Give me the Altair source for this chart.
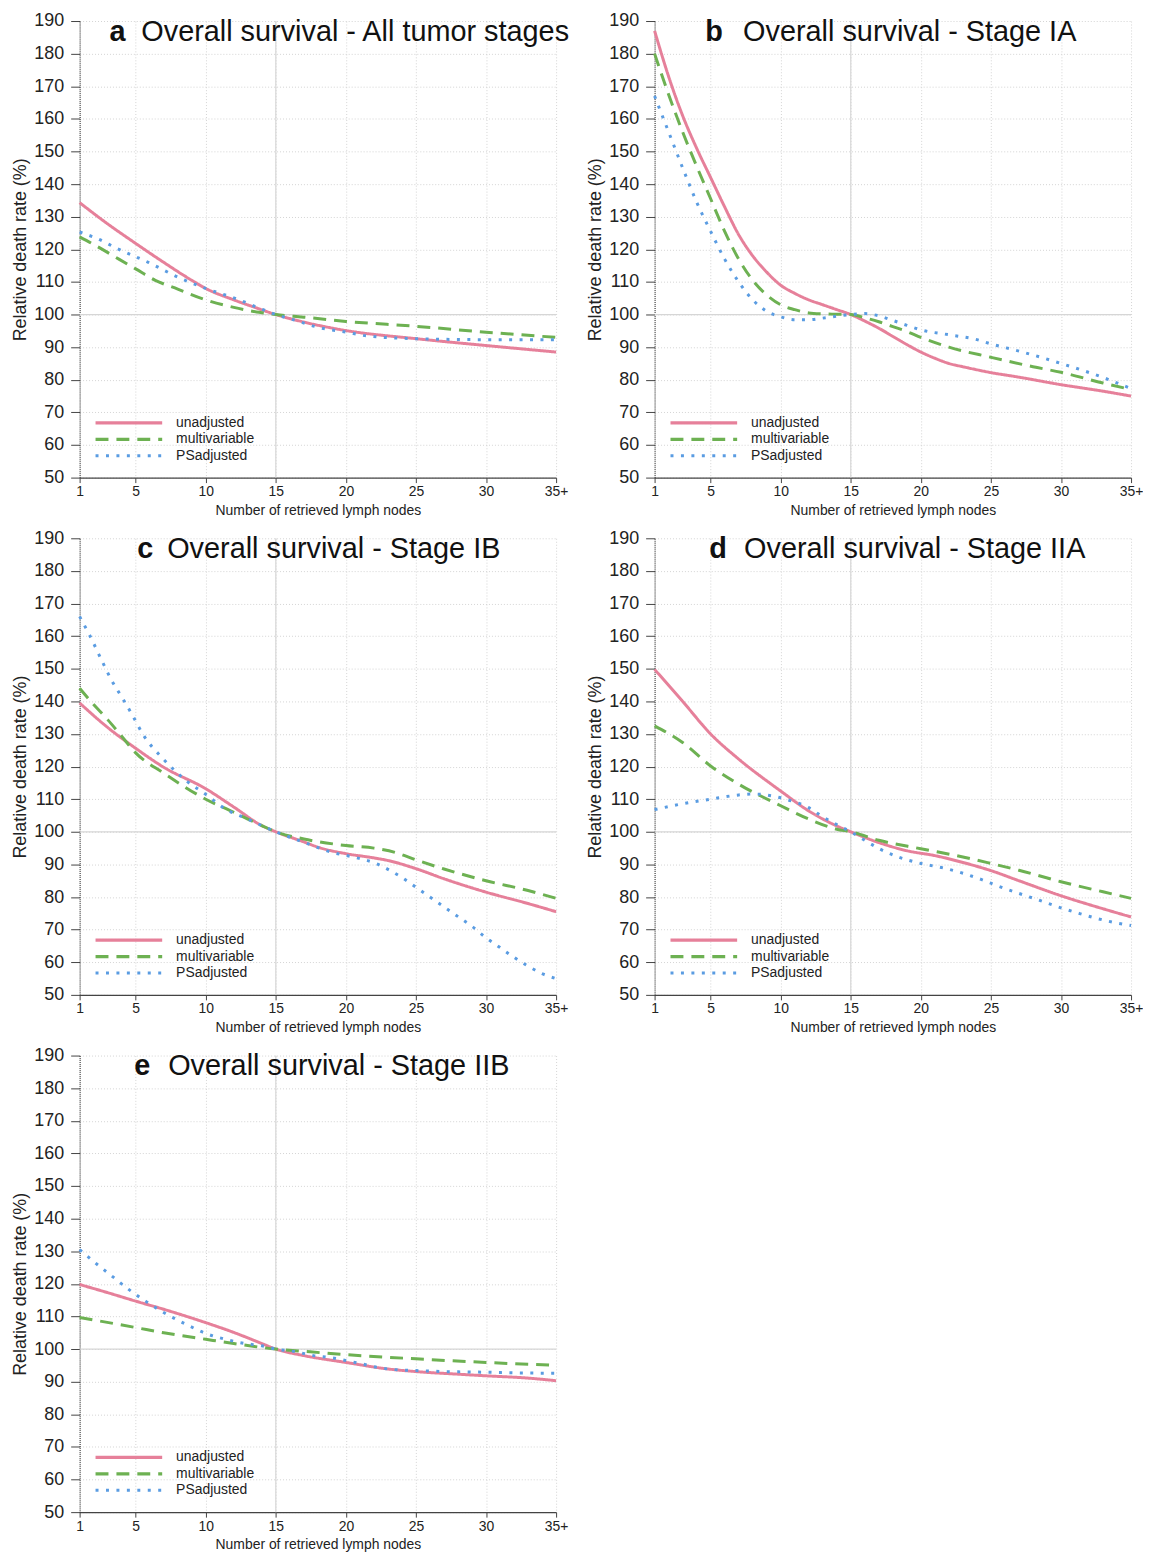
import altair as alt
import pandas as pd

FONT = "Liberation Sans"
MODELS = ["unadjusted", "multivariable", "PSadjusted"]
COLORS = ["#E6809A", "#6DB152", "#5A9CE2"]
DASHES = [[1, 0], [13, 8], [3, 7.5]]

X_TICKS = [1, 5, 10, 15, 20, 25, 30, 35]
Y_TICKS = list(range(50, 191, 10))
X_TITLE = "Number of retrieved lymph nodes"
Y_TITLE = "Relative death rate (%)"

# ---------- panel a ----------
A_LETTER = "a"
A_TITLE = "Overall survival - All tumor stages"
A_UN_X = [1, 3, 5, 7, 9, 10, 12, 13.5, 15, 17, 20, 25, 30, 35]
A_UN_Y = [134.3, 127.8, 121.8, 116, 110.5, 108, 104.5, 102.2, 100, 97.7, 95.1, 92.6, 90.5, 88.5]
A_MV_X = [1, 2, 3.8, 5, 6.4, 8, 10, 12, 13.8, 15, 17, 20, 25, 30, 35]
A_MV_Y = [123.8, 121.5, 117, 114, 110.5, 107.8, 104.5, 102.2, 100.7, 100, 99.2, 97.9, 96.4, 94.6, 93]
A_PS_X = [1, 2.25, 3.7, 5.9, 8, 10, 12.2, 13.8, 15, 16.4, 18, 20, 21.6, 25, 30, 35]
A_PS_Y = [125.3, 123.3, 120.2, 116, 111.5, 108, 104.8, 102, 100, 98.2, 96.1, 94.6, 93.4, 92.6, 92.3, 92.3]

# ---------- panel b ----------
B_LETTER = "b"
B_TITLE = "Overall survival - Stage IA"
B_UN_X = [1, 2, 3, 4, 5, 6, 7, 8, 9, 10, 11, 12, 13, 14, 15, 16, 17, 18, 19, 20, 21, 22, 23, 25, 27, 30, 33, 35]
B_UN_Y = [187, 173, 161, 151, 142, 133, 124.5, 118, 113, 109, 106.5, 104.5, 103, 101.5, 100, 98, 95.8, 93.3,
          90.8, 88.5, 86.6, 85, 84, 82.2, 80.8, 78.5, 76.5, 75]
B_MV_X = [1, 2, 3, 4, 5, 6, 7, 8, 9, 10, 11, 12, 13, 14, 15, 16, 17, 18, 19, 20, 22, 25, 28, 30, 33, 35]
B_MV_Y = [180, 167.5, 156, 145.5, 135.5, 125.5, 117, 110.5, 106, 103, 101.5, 100.5, 100.2, 100.1, 100, 99, 97.8,
          96.3, 94.8, 93, 90, 86.9, 84, 82.3, 79, 77]
B_PS_X = [1, 2, 3, 4, 5, 6, 7, 8, 9, 10, 11, 12, 13, 14, 15, 16, 17, 18, 19, 20, 22, 24, 25, 27, 30, 33, 35]
B_PS_Y = [167, 156, 145, 134.5, 125.5, 117, 110, 104.5, 101, 99.3, 98.4, 98.4, 98.9, 99.5, 100, 100.3, 99.6, 98.2,
          96.7, 95.3, 93.8, 92.3, 91, 88.8, 85, 80.7, 77.3]

# ---------- panel c ----------
C_LETTER = "c"
C_TITLE = "Overall survival - Stage IB"
C_UN_X = [1, 3, 5, 7, 10, 12, 14, 15, 17, 18, 20, 22, 23, 25, 27, 30, 33, 35]
C_UN_Y = [139.5, 132, 125.6, 119.8, 113.2, 107.6, 101.9, 100, 96.9, 95.3, 93.3, 92, 91.2, 88.7, 85.6, 81.5, 78, 75.5]
C_MV_X = [1, 2, 3, 4, 5, 7, 10, 12, 13, 14, 15, 17, 20, 22, 23.5, 25, 27, 30, 33, 35]
C_MV_Y = [144, 139, 134.4, 129.3, 124.2, 118, 110, 106, 103.9, 101.9, 100, 97.8, 95.8, 95, 93.7, 91.4, 88.6, 85, 82, 79.6]
C_PS_X = [1, 1.7, 2.65, 3.3, 4.1, 4.8, 5.5, 7, 8.6, 10, 11.4, 13, 15, 17, 19, 20.6, 22.2, 23, 24, 25, 26, 27, 28,
          29, 30, 31, 32, 33, 34, 35]
C_PS_Y = [166, 160.4, 151.9, 146.3, 140.7, 135.5, 130, 122.2, 115.7, 111.5, 107, 103.9, 100, 96.8, 93.7, 92.2, 90.2,
          88.5, 86, 83, 80, 77, 74, 71, 67.5, 64.5, 61.5, 58.8, 56.5, 55]

# ---------- panel d ----------
D_LETTER = "d"
D_TITLE = "Overall survival - Stage IIA"
D_UN_X = [1, 3, 5, 7, 10, 12, 14, 15, 17, 19, 21, 23, 25, 27, 30, 33, 35]
D_UN_Y = [149.8, 140, 130, 122.3, 112.5, 106.4, 101.8, 100, 96.7, 94.2, 92.7, 90.6, 88.1, 85, 80.4, 76.4, 73.9]
D_MV_X = [1, 3, 5, 7, 10, 12, 14, 15, 17, 20, 23, 25, 27, 30, 33, 35]
D_MV_Y = [132.5, 127.4, 120.2, 114.6, 108, 103.9, 100.8, 100, 97.4, 94.8, 92.3, 90.3, 88.2, 84.7, 81.6, 79.6]
D_PS_X = [1, 3, 5, 7, 8, 9.5, 10.5, 12, 13, 14, 15, 16, 17, 18.3, 20, 21.7, 23, 24.3, 25.5, 26.8, 28.4, 29.7,
          31.2, 32.5, 33.8, 35]
D_PS_Y = [106.8, 108.6, 110, 111.3, 111.6, 110.9, 109.8, 107.4, 104.6, 102.2, 100, 97.4, 94.9, 92.4, 90.3, 88.8,
          87.3, 85.4, 83.4, 81.4, 79.1, 77.1, 75.1, 73.5, 72.2, 71.3]

# ---------- panel e ----------
E_LETTER = "e"
E_TITLE = "Overall survival - Stage IIB"
E_UN_X = [1, 3, 5, 7, 10, 12, 14, 15, 17, 20, 23, 25, 28, 30, 33, 35]
E_UN_Y = [119.8, 117.3, 114.7, 112.2, 108.1, 105.1, 101.7, 100, 98, 95.9, 93.9, 93.1, 92.3, 91.8, 91.1, 90.3]
E_MV_X = [1, 5, 7, 10, 12, 15, 17, 20, 25, 30, 35]
E_MV_Y = [109.7, 106.6, 105, 103, 101.7, 100, 99.3, 98.3, 97, 95.9, 95]
E_PS_X = [1, 2.1, 3.3, 4.5, 5.7, 7, 8.5, 10, 11.7, 12.8, 14, 15, 16.4, 17.7, 19, 20.1, 21.2, 22.2, 23.5, 25, 27,
          30, 32, 35]
E_PS_Y = [130.5, 126.5, 122.4, 118.3, 114.7, 111.2, 107.8, 104.8, 102.7, 101.7, 101, 100, 99.2, 98, 97.3, 96.4,
          95.4, 94.4, 93.7, 93.4, 93.1, 92.9, 92.7, 92.6]

# title placement inside each plot (pixel offsets from the plot's top-left corner)
TITLE_STYLE = {
    "a": (30, 62),
    "b": (51, 89),
    "c": (58, 88),
    "d": (55, 90),
    "e": (55, 89),
}
TITLE_BASELINE = 20
W, H = 479, 459


def panel(letter, title, ux, uy, mx, my, px, py):
    rows = []
    for m, xs, ys in zip(MODELS, [ux, mx, px], [uy, my, py]):
        for x, y in zip(xs, ys):
            rows.append({"n": x, "rate": y, "model": m})
    df = pd.DataFrame(rows)

    xsc = alt.Scale(domain=[1, 35], nice=False, zero=False)
    ysc = alt.Scale(domain=[50, 190], nice=False, zero=False)
    xax = alt.Axis(values=X_TICKS, title=X_TITLE,
                   labelExpr="datum.value == 35 ? '35+' : datum.label")
    yax = alt.Axis(values=Y_TICKS, title=Y_TITLE)
    leg = alt.Legend(title=None, orient="none", legendX=14, legendY=396,
                     symbolType="stroke", symbolSize=4489, symbolStrokeWidth=3.2,
                     clipHeight=16, labelFontSize=14, labelOffset=12,
                     rowPadding=0.5, padding=0, labelFont=FONT, labelColor="#222")

    vrule = alt.Chart(pd.DataFrame({"n": [15]})).mark_rule(
        color="#d6d6d6", strokeWidth=1.2).encode(x=alt.X("n:Q", scale=xsc, axis=xax))
    hrule = alt.Chart(pd.DataFrame({"rate": [100]})).mark_rule(
        color="#d6d6d6", strokeWidth=1.2).encode(y=alt.Y("rate:Q", scale=ysc, axis=yax))

    lines = alt.Chart(df).mark_line(interpolate="monotone", strokeWidth=3).encode(
        x=alt.X("n:Q", scale=xsc, axis=xax),
        y=alt.Y("rate:Q", scale=ysc, axis=yax),
        color=alt.Color("model:N", scale=alt.Scale(domain=MODELS, range=COLORS), legend=leg),
        strokeDash=alt.StrokeDash("model:N", scale=alt.Scale(domain=MODELS, range=DASHES), legend=leg),
    )

    ldx, tdx = TITLE_STYLE[letter]
    letter_txt = alt.Chart(pd.DataFrame({"t": [letter]})).mark_text(
        font=FONT, fontSize=29, fontWeight="bold", align="left", baseline="alphabetic", color="#111"
    ).encode(x=alt.value(ldx), y=alt.value(TITLE_BASELINE), text="t:N")
    title_txt = alt.Chart(pd.DataFrame({"t": [title]})).mark_text(
        font=FONT, fontSize=29, align="left", baseline="alphabetic", color="#111"
    ).encode(x=alt.value(tdx), y=alt.value(TITLE_BASELINE), text="t:N")

    return alt.layer(vrule, hrule, lines, letter_txt, title_txt).properties(width=W, height=H)


panels = [
    panel(A_LETTER, A_TITLE, A_UN_X, A_UN_Y, A_MV_X, A_MV_Y, A_PS_X, A_PS_Y),
    panel(B_LETTER, B_TITLE, B_UN_X, B_UN_Y, B_MV_X, B_MV_Y, B_PS_X, B_PS_Y),
    panel(C_LETTER, C_TITLE, C_UN_X, C_UN_Y, C_MV_X, C_MV_Y, C_PS_X, C_PS_Y),
    panel(D_LETTER, D_TITLE, D_UN_X, D_UN_Y, D_MV_X, D_MV_Y, D_PS_X, D_PS_Y),
    panel(E_LETTER, E_TITLE, E_UN_X, E_UN_Y, E_MV_X, E_MV_Y, E_PS_X, E_PS_Y),
]

chart = alt.concat(
    *panels, columns=2, spacing={"row": 61, "column": 99}, bounds="flush",
    padding={"left": 3, "top": 0, "right": 0, "bottom": 0},
).resolve_scale(
    color="independent", strokeDash="independent"
).resolve_legend(
    color="independent", strokeDash="independent"
).configure(
    font=FONT
).configure_view(
    stroke=None
).configure_axisX(
    labelFontSize=14, titleFontSize=14, titleFontWeight="normal", labelColor="#222", titleColor="#222",
    labelFont=FONT, titleFont=FONT, tickSize=5, tickColor="#444", domainColor="#444", domainWidth=1.4,
    labelPadding=2, titlePadding=5, grid=True, gridColor="#d4d4d4", gridDash=[1, 2],
    labelFlush=False, labelOverlap=False,
).configure_axisY(
    labelFontSize=18, titleFontSize=18, titleFontWeight="normal", labelColor="#222", titleColor="#222",
    labelFont=FONT, titleFont=FONT, tickSize=9, tickColor="#444", domainColor="#222", domainDash=[1, 1],
    labelPadding=7, titlePadding=4, grid=True, gridColor="#d4d4d4", gridDash=[1, 2],
    labelFlush=False, labelOverlap=False,
)

chart.save("out.html", embed_options={"renderer": "svg", "actions": False})
